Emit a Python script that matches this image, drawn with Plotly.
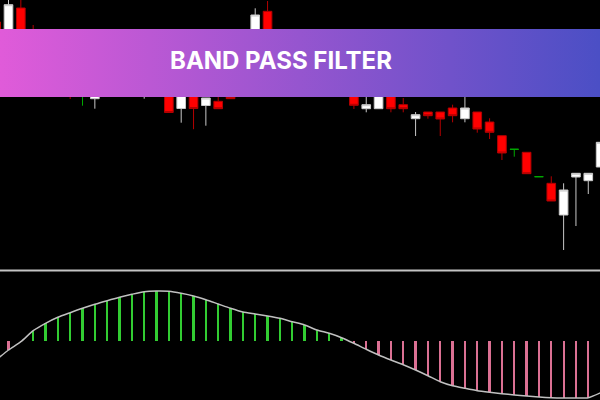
import base64
import plotly.graph_objects as go

# ---------------- data ----------------
bar_index = list(range(-1, 49))

open_ = [248, 225, 262, 230, 195, 208, 195, 182, 171.3, 182, 192, 206, 180, 198, 185, 161.5, 182, 164.5, 168.7, 190,
         178, 215, 258.7, 225, 210, 190, 208, 190, 178, 195, 161.3, 161.3, 182, 165.3, 151.3, 158, 158, 162, 151.3, 158,
         148, 134.3, 120.7, 117.7, 93.3, 86.7, 55, 93, 89.3, 103]
high = [250, 272, 271, 245, 215, 212, 200, 190, 190, 200, 212, 210, 205, 202, 190, 186, 188, 172, 178, 195,
        215, 261.7, 269, 235, 215, 220, 212, 198, 205, 200, 180, 188, 185, 172, 158, 158, 158, 165.3, 180, 158,
        151.7, 134.3, 120.7, 117.7, 93.3, 93.7, 86.7, 96.7, 96.7, 130]
low = [225, 215, 200, 190, 188, 185, 171, 164.3, 161.3, 178, 188, 190, 171.3, 175, 157.5, 147.3, 140.8, 144.3, 161.3, 171.3,
       175, 208, 220, 202, 190, 185, 182, 176, 175, 161, 157.7, 161.3, 157.7, 157.7, 134, 151.3, 134, 147.7, 147.7, 137.3,
       131, 110, 113.3, 96.3, 93.3, 69, 20, 44, 76, 103]
close = [230, 265.3, 210, 200, 210, 192, 180, 182, 185, 195, 208, 195, 198, 180, 157.5, 182, 161.5, 172, 161.3, 171.3,
         210, 255, 225, 210, 198, 208, 190, 182, 200, 164.7, 165.3, 185, 161.3, 161.3, 155.3, 154.3, 151, 154.3, 162, 141,
         137.7, 117, 120.7, 96.3, 93.3, 69, 80, 96.7, 96.7, 127.7]

bpf_value = [-19, -9, -0.7, 10.3, 17.7, 23.7, 28.3, 32.7, 36.7, 40.3, 43.7, 46.7, 49.3, 50, 49.7, 47.7, 45, 41.3, 37, 32.7,
             29, 27, 25, 22.7, 19.3, 16, 11, 7.7, 3.3, -2.3, -8.3, -14, -19, -23.7, -29, -34.7, -40.7, -44.7, -47.3, -49.7,
             -51.3, -52.7, -54, -55, -56, -56.7, -57, -57, -56.7, -51.7]

title_text = "BAND PASS FILTER"

# ---------------- figure ----------------
fig = go.Figure()


def subset(kind):
    idx = []
    for k in range(len(bar_index)):
        if kind == "up" and close[k] > open_[k]:
            idx.append(k)
        elif kind == "down" and close[k] < open_[k]:
            idx.append(k)
        elif kind == "doji" and close[k] == open_[k]:
            idx.append(k)
    return idx


styles = {
    "up": ("#ffffff", "#c8c8c8"),
    "down": ("#ff0000", "#b40000"),
    "doji": ("#00a800", "#00a800"),
}
for kind, (fill, line) in styles.items():
    idx = subset(kind)
    fig.add_trace(go.Candlestick(
        x=[bar_index[k] for k in idx],
        open=[open_[k] for k in idx],
        high=[high[k] for k in idx],
        low=[low[k] for k in idx],
        close=[close[k] for k in idx],
        increasing=dict(fillcolor=fill, line=dict(color=line, width=1)),
        decreasing=dict(fillcolor=fill, line=dict(color=line, width=1)),
        whiskerwidth=0,
        xaxis="x", yaxis="y",
        hoverinfo="skip", showlegend=False,
    ))

fig.add_trace(go.Bar(
    x=bar_index, y=bpf_value,
    marker=dict(color=["#32cd32" if v >= 0 else "#db7093" for v in bpf_value], line=dict(width=0)),
    width=0.18,
    xaxis="x2", yaxis="y2", hoverinfo="skip", showlegend=False,
))
fig.add_trace(go.Scatter(
    x=bar_index, y=bpf_value, mode="lines",
    line=dict(color="#c0c0c0", width=1.5, shape="spline", smoothing=0.6),
    xaxis="x2", yaxis="y2", hoverinfo="skip", showlegend=False,
))

svg = ("<svg xmlns='http://www.w3.org/2000/svg' width='600' height='68' preserveAspectRatio='none'>"
       "<defs><linearGradient id='g' x1='0' x2='1' y1='0' y2='0'>"
       "<stop offset='0' stop-color='#e05bd9'/><stop offset='1' stop-color='#4b4fc5'/>"
       "</linearGradient></defs><rect width='600' height='68' fill='url(#g)'/></svg>")
src = "data:image/svg+xml;base64," + base64.b64encode(svg.encode()).decode()

H = 400.0
xr = [-0.689, 47.95]
axis_off = dict(visible=False, showgrid=False, zeroline=False, fixedrange=True)

fig.update_layout(
    width=600, height=400,
    margin=dict(l=0, r=0, t=0, b=0),
    paper_bgcolor="#000000", plot_bgcolor="#000000",
    boxgap=0.3, boxgroupgap=0, bargap=0,
    xaxis=dict(range=xr, domain=[0, 1], rangeslider=dict(visible=False), anchor="y", **axis_off),
    yaxis=dict(range=[0, 270], domain=[1 - 270 / H, 1], anchor="x", **axis_off),
    xaxis2=dict(range=xr, domain=[0, 1], anchor="y2", **axis_off),
    yaxis2=dict(range=[-59, 69], domain=[0, 1 - 272 / H], anchor="x2", **axis_off),
    shapes=[dict(type="line", xref="paper", yref="paper", x0=0, x1=1,
                 y0=1 - 270.5 / H, y1=1 - 270.5 / H, line=dict(color="#c4c4c4", width=2), layer="above")],
    images=[dict(source=src, xref="paper", yref="paper", x=0, y=1 - 29 / H, sizex=1, sizey=68 / H,
                 xanchor="left", yanchor="top", sizing="stretch", layer="above")],
    annotations=[dict(text="<b>" + title_text + "</b>", xref="paper", yref="paper", x=281 / 600, y=1 - 61 / H,
                      xanchor="center", yanchor="middle", showarrow=False,
                      font=dict(family="Inter, Open Sans, sans-serif", size=24, color="#ffffff"))],
)

fig.write_html(
    "out.html",
    config={"displayModeBar": False, "staticPlot": True},
    post_script="document.body.style.margin='0';document.body.style.padding='0';"
                "document.body.style.background='#000';document.body.style.overflow='hidden';",
)
